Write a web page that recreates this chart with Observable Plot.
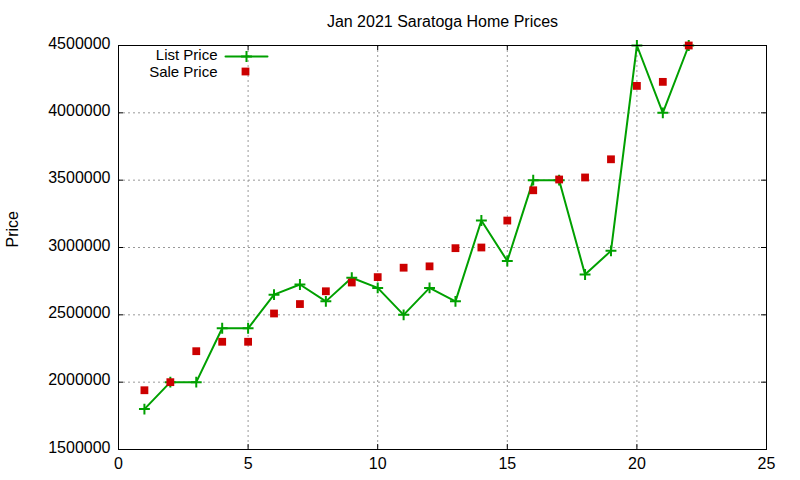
<!DOCTYPE html>
<html>
<head>
<meta charset="utf-8">
<script src="https://cdn.jsdelivr.net/npm/d3@7"></script>
<script src="https://cdn.jsdelivr.net/npm/@observablehq/plot@0.6"></script>
<style>
  html, body { margin: 0; padding: 0; background: #fff; }
  #chart svg { display: block; font-family: "Liberation Sans", Arial, sans-serif; }
</style>
</head>
<body>
<div id="chart"></div>
<script>
const titleText = "Jan 2021 Saratoga Home Prices";
const yLabel = "Price";
const homes = [1,2,3,4,5,6,7,8,9,10,11,12,13,14,15,16,17,18,19,20,21,22];
const listPrice = [1800000,2000000,2000000,2400000,2400000,2650000,2725000,2600000,2775000,2700000,2500000,2700000,2600000,3200000,2900000,3500000,3500000,2800000,2975000,4500000,4000000,4500000];
const salePrice = [1940000,2000000,2230000,2300000,2300000,2510000,2580000,2675000,2740000,2780000,2850000,2860000,2995000,3000000,3200000,3425000,3505000,3520000,3655000,4200000,4230000,4500000];
const xTicks = [0,5,10,15,20,25];
const yTicks = [1500000,2000000,2500000,3000000,3500000,4000000,4500000];
const legendLabels = ["List Price", "Sale Price"];

const listData = homes.map((h, i) => ({x: h, y: listPrice[i]}));
const saleData = homes.map((h, i) => ({x: h, y: salePrice[i]}));

const W = 800, H = 480;
const mL = 118, mR = 34, mT = 45, mB = 31;
const pw = W - mL - mR, ph = H - mT - mB;
const tick = 5;
const green = "#00a000", red = "#cc0000";
const lineShape = {draw(ctx, l) { ctx.moveTo(0, 0); ctx.lineTo(0, -l); }};

const chart = Plot.plot({
  width: W, height: H,
  marginLeft: mL, marginRight: mR, marginTop: mT, marginBottom: mB,
  style: {fontSize: "16px", fontFamily: "Liberation Sans, Arial, sans-serif", color: "black", background: "white"},
  x: {domain: [0, 25]},
  y: {domain: [1500000, 4500000]},
  marks: [
    Plot.gridX(xTicks.slice(1, -1), {stroke: "#999", strokeOpacity: 1, strokeWidth: 1, strokeDasharray: "2,3"}),
    Plot.gridY(yTicks.slice(1, -1), {stroke: "#999", strokeOpacity: 1, strokeWidth: 1, strokeDasharray: "2,3"}),
    Plot.tickY(yTicks, {y: d => d, insetRight: pw - tick, stroke: "black"}),
    Plot.tickY(yTicks, {y: d => d, insetLeft: pw - tick, stroke: "black"}),
    Plot.tickX(xTicks, {x: d => d, insetTop: ph - tick, stroke: "black"}),
    Plot.tickX(xTicks, {x: d => d, insetBottom: ph - tick, stroke: "black"}),
    Plot.axisY(yTicks, {tickSize: 0, tickPadding: 8, tickFormat: d3.format("d"), fontSize: 16, label: null, dy: -2}),
    Plot.axisX(xTicks, {tickSize: 0, tickPadding: 8, tickFormat: d3.format("d"), fontSize: 16, label: null}),
    Plot.line(listData, {x: "x", y: "y", stroke: green, strokeWidth: 2}),
    Plot.dot(listData, {x: "x", y: "y", symbol: "plus", r: 3.6, stroke: green, strokeWidth: 2}),
    Plot.dot(saleData, {x: "x", y: "y", symbol: "square", r: 4.4, fill: red, stroke: "none"}),
    Plot.frame({stroke: "black", strokeWidth: 1}),
    Plot.text([titleText], {frameAnchor: "top", lineAnchor: "middle", dy: -24, fontSize: 16, fill: "black"}),
    Plot.text([yLabel], {frameAnchor: "left", dx: -106, rotate: -90, fontSize: 16, fill: "black"}),
    Plot.text([legendLabels[0]], {frameAnchor: "top-left", lineAnchor: "middle", dx: 99, dy: 10, textAnchor: "end", fontSize: 15, fill: "black"}),
    Plot.text([legendLabels[1]], {frameAnchor: "top-left", lineAnchor: "middle", dx: 99, dy: 27, textAnchor: "end", fontSize: 15, fill: "black"}),
    Plot.vector([0], {frameAnchor: "top-left", dx: 107, dy: 11, length: 42, rotate: 90, anchor: "start", shape: lineShape, stroke: green, strokeWidth: 2}),
    Plot.dot([0], {frameAnchor: "top-left", dx: 128, dy: 11, symbol: "plus", r: 3.6, stroke: green, strokeWidth: 2}),
    Plot.dot([0], {frameAnchor: "top-left", dx: 127, dy: 26, symbol: "square", r: 4.4, fill: red, stroke: "none"})
  ]
});
document.getElementById("chart").appendChild(chart);
</script>
</body>
</html>
